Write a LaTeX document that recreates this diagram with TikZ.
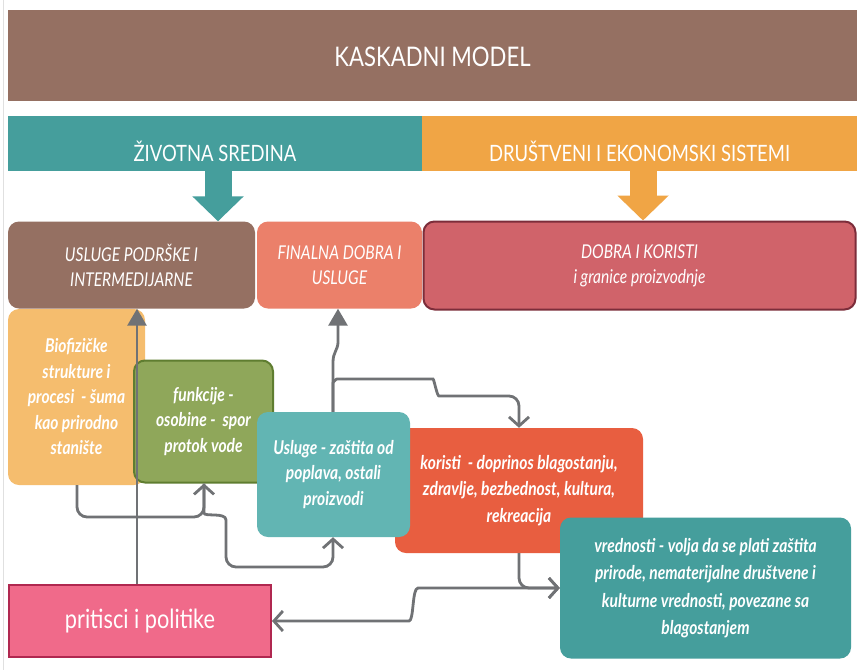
\documentclass[tikz,border=0pt]{standalone}
\usepackage{fontspec}
\setmainfont{Lato}[FakeStretch=0.82]
\usetikzlibrary{arrows.meta,calc}
\definecolor{cBrown}{HTML}{957062}
\definecolor{cTeal}{HTML}{459E9C}
\definecolor{cOrange}{HTML}{F0A545}
\definecolor{cSalmon}{HTML}{EB806A}
\definecolor{cRed}{HTML}{D0636A}
\definecolor{cRedB}{HTML}{7C2D3A}
\definecolor{cLOrange}{HTML}{F5BD6E}
\definecolor{cGreen}{HTML}{8FA75A}
\definecolor{cGreenB}{HTML}{5F7D30}
\definecolor{cLTeal}{HTML}{62B5B3}
\definecolor{cKor}{HTML}{E85E40}
\definecolor{cPink}{HTML}{F06A8A}
\definecolor{cPinkB}{HTML}{B02850}
\definecolor{cLine}{HTML}{707275}
\begin{document}
\begin{tikzpicture}[x=1pt,y=-1pt,
  bar/.style={rectangle, inner sep=0pt, text=white},
  box/.style={rectangle, rounded corners=11pt, inner sep=0pt, align=center, text=white},
  capsit/.style={font=\fontsize{19}{25}\selectfont\itshape},
  bodyit/.style={font=\fontsize{19}{25.5}\selectfont\bfseries\itshape},
  conn/.style={draw=cLine, line width=2.8pt, rounded corners=10pt},
  oarr/.style={-{Straight Barb[length=9pt,width=20pt]}},
  farr/.style={-{Triangle[length=17pt,width=19pt]}},
  bigarr/.style={line width=27pt}
]
\useasboundingbox (0,0) rectangle (857,670);
\fill[white] (0,0) rectangle (857,670);
\draw[black!12, line width=1pt] (3,0) -- (3,670);

% header bars
\node[bar, fill=cBrown, minimum width=849pt, minimum height=91pt,
      font=\fontsize{27}{30}\selectfont] (title) at (432.5,55.5)
      {\raisebox{-11pt}[0pt][0pt]{KASKADNI MODEL}};
\node[bar, fill=cTeal, minimum width=414pt, minimum height=55pt,
      font=\fontsize{22.5}{26}\selectfont] (env) at (215,143.5)
      {\raisebox{-18pt}[0pt][0pt]{ŽIVOTNA SREDINA}};
\node[bar, fill=cOrange, minimum width=435pt, minimum height=55pt,
      font=\fontsize{22.5}{26}\selectfont] (soc) at (639.5,143.5)
      {\raisebox{-18pt}[0pt][0pt]{DRUŠTVENI I EKONOMSKI SISTEMI}};

% row 3
\node[box, fill=cBrown, minimum width=247pt, minimum height=87pt, capsit] (usl) at (131.5,265)
  {USLUGE PODRŠKE I\\INTERMEDIJARNE};
\node[box, fill=cSalmon, minimum width=165pt, minimum height=87pt, capsit] (fin) at (339.5,265)
  {FINALNA DOBRA I\\USLUGE};
\node[box, fill=cRed, draw=cRedB, line width=2pt, minimum width=432pt, minimum height=88pt, capsit] (dob) at (639.5,265.5)
  {DOBRA I KORISTI\\i granice proizvodnje};

% big arrows
\coordinate (xa) at (218,0);
\coordinate (xb) at (643,0);
\draw[cTeal, bigarr, -{Triangle[length=25pt,width=50pt]}] (env.south -| xa) -- (usl.north -| xa);
\draw[cOrange, bigarr, -{Triangle[length=25pt,width=50pt]}] (soc.south -| xb) -- (dob.north -| xb);

% row 4
\node[box, fill=cLOrange, minimum width=137pt, minimum height=176pt, bodyit] (bio) at (76.5,397)
  {Biofizičke\\strukture i\\procesi \ - šuma\\kao prirodno\\stanište};
\node[box, fill=cGreen, draw=cGreenB, line width=2pt, minimum width=139pt, minimum height=122pt, bodyit] (fun) at (203.5,421.5)
  {funkcije -\\osobine - \ spor\\protok vode};
\node[box, fill=cKor, minimum width=248pt, minimum height=125pt,
      font=\fontsize{19}{26.5}\selectfont\bfseries\itshape] (kor) at (519,490.5)
  {koristi \ - doprinos blagostanju,\\zdravlje, bezbednost, kultura,\\rekreacija};
\node[box, fill=cLTeal, minimum width=153pt, minimum height=125pt, bodyit] (usl2) at (333.5,474.5)
  {Usluge - zaštita od\\poplava, ostali\\proizvodi};
\node[box, fill=cTeal, minimum width=291pt, minimum height=141pt,
      font=\fontsize{19}{27.5}\selectfont\bfseries\itshape] (vred) at (705.5,588)
  {vrednosti - volja da se plati zaštita\\prirode, nematerijalne društvene i\\kulturne vrednosti, povezane sa\\blagostanjem};
\node[rectangle, fill=cPink, draw=cPinkB, line width=2pt, text=white, inner sep=0pt,
      minimum width=262pt, minimum height=72pt, font=\fontsize{26.5}{30}\selectfont] (pol) at (140,621)
  {pritisci i politike};

% connectors
\coordinate (x137) at (137,0);
\coordinate (x77) at (77,0);
\coordinate (x204) at (204,0);
\coordinate (x333) at (333,0);
\coordinate (x338) at (338,0);
\coordinate (x519) at (519,0);

\draw[conn, farr] (pol.north -| x137) -- (usl.south -| x137);
\draw[conn, oarr] (bio.south -| x77) -- (77,517) -- (204,517) -- (fun.south -| x204);
\draw[conn, oarr] (fun.south -| x204) -- (204,503)
   .. controls (204,517) and (226,512) .. (226,530) -- (226,567) -- (333,567) -- (usl2.south -| x333);
\draw[conn, farr] (usl2.north -| x333) -- (333,372) .. controls (333,352) and (338,350) .. (338,332) -- (fin.south -| x338);
\draw[conn, oarr] (usl2.north -| x333) -- (333,393) .. controls (333,382) and (336,379) .. (347,379)
   -- (423,379) .. controls (434,379) and (437,396) .. (449,396) -- (519,396) -- (kor.north -| x519);
\draw[conn, oarr] (kor.south -| x519) |- (vred.west);
\draw[conn, {Straight Barb[length=9pt,width=20pt]}-{Straight Barb[length=9pt,width=20pt]}]
   (pol.east) -- (399,621) .. controls (414,621) and (412,588) .. (428,588) -- (vred.west);
\end{tikzpicture}
\end{document}
